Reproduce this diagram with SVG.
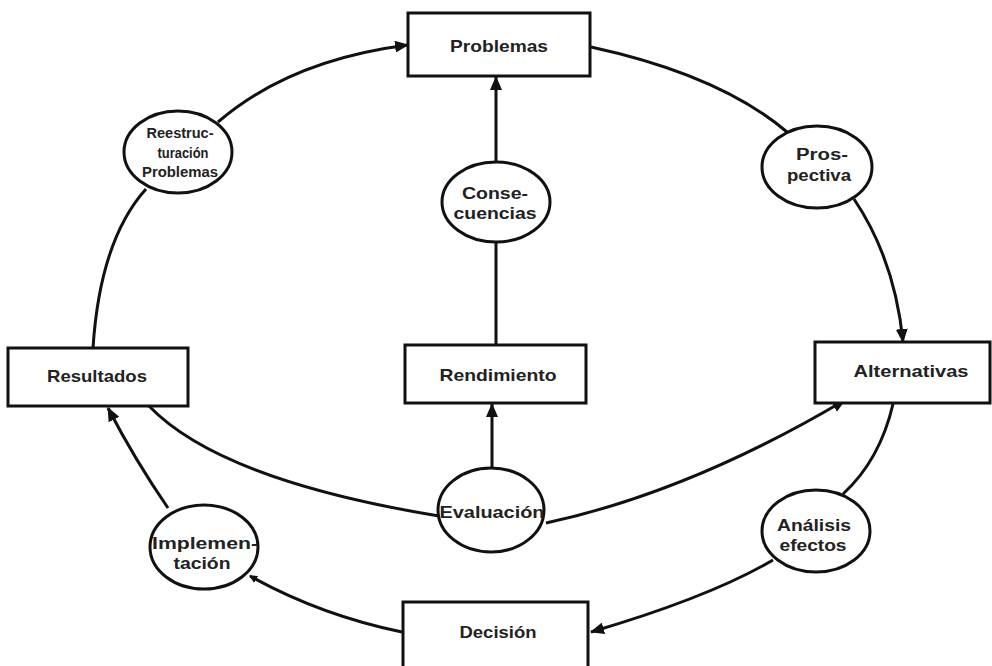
<svg xmlns="http://www.w3.org/2000/svg" width="992" height="666" viewBox="0 0 992 666">
<defs>
<marker id="arr" markerUnits="userSpaceOnUse" markerWidth="14" markerHeight="12" refX="13" refY="6" orient="auto">
<path d="M0,0 L14,6 L0,12 Z" fill="#111"/>
</marker>
<marker id="arrs" markerUnits="userSpaceOnUse" markerWidth="8" markerHeight="8" refX="7" refY="4" orient="auto">
<path d="M0,0 L8,4 L0,8 Z" fill="#111"/>
</marker>
<style>
.box{fill:#fff;stroke:#111;stroke-width:3}
.ell{fill:#fff;stroke:#111;stroke-width:3}
.con{fill:none;stroke:#111;stroke-width:3}
text{font-family:"Liberation Sans",Arial,sans-serif;font-weight:bold;fill:#222;text-anchor:middle;dominant-baseline:central}
.t{font-size:17px}
.s{font-size:16px}
.xs{font-size:14px}
</style>
</defs>
<rect width="992" height="666" fill="#fff"/>
<g id="connectors">
<path class="con" d="M218,122 Q290,60 408,45" marker-end="url(#arr)"/>
<path class="con" d="M93,348 Q100,240 146,189"/>
<path class="con" d="M591,47 Q720,75 787,132"/>
<path class="con" d="M854,199 Q895,260 903,342" marker-end="url(#arr)"/>
<path class="con" d="M496,162 L496,77" marker-end="url(#arr)"/>
<path class="con" d="M496,345 L496,242"/>
<path class="con" d="M492,468 L492,404" marker-end="url(#arr)"/>
<path class="con" d="M149,406 Q220,480 439,516"/>
<path class="con" d="M546,523 Q690,492 845,400" marker-end="url(#arr)"/>
<path class="con" d="M893,404 Q880,460 843,494"/>
<path class="con" d="M773,560 Q710,597 591,632" marker-end="url(#arr)"/>
<path class="con" d="M402,632 Q320,615 250,576" marker-end="url(#arrs)"/>
<path class="con" d="M168,508 Q135,460 108,408" marker-end="url(#arr)"/>
</g>
<g id="problemas"><rect class="box" x="408" y="13" width="182" height="63"/><text class="t" x="499" y="46" textLength="98" lengthAdjust="spacingAndGlyphs">Problemas</text></g>
<g id="rendimiento"><rect class="box" x="405" y="345" width="181" height="58"/><text class="t" x="498" y="375" textLength="117" lengthAdjust="spacingAndGlyphs">Rendimiento</text></g>
<g id="resultados"><rect class="box" x="8" y="348" width="180" height="58"/><text class="t" x="97" y="376" textLength="100" lengthAdjust="spacingAndGlyphs">Resultados</text></g>
<g id="alternativas"><rect class="box" x="815" y="342" width="175" height="61"/><text class="t" x="911" y="371" textLength="115" lengthAdjust="spacingAndGlyphs">Alternativas</text></g>
<g id="decision"><rect class="box" x="403" y="602" width="185" height="70"/><text class="t" x="498" y="632" textLength="77" lengthAdjust="spacingAndGlyphs">Decisión</text></g>
<g id="reestructuracion"><ellipse class="ell" cx="178" cy="152" rx="54" ry="41"/>
<text class="xs" x="180" y="133" textLength="67" lengthAdjust="spacingAndGlyphs">Reestruc-</text>
<text class="xs" x="183" y="153" textLength="51" lengthAdjust="spacingAndGlyphs">turación</text>
<text class="xs" x="180" y="172" textLength="76" lengthAdjust="spacingAndGlyphs">Problemas</text></g>
<g id="prospectiva"><ellipse class="ell" cx="817" cy="167" rx="55" ry="41"/>
<text class="s" x="822" y="154" textLength="52" lengthAdjust="spacingAndGlyphs">Pros-</text>
<text class="s" x="819" y="175" textLength="64" lengthAdjust="spacingAndGlyphs">pectiva</text></g>
<g id="consecuencias"><ellipse class="ell" cx="496" cy="202" rx="54" ry="40"/>
<text class="s" x="495" y="193" textLength="66" lengthAdjust="spacingAndGlyphs">Conse-</text>
<text class="s" x="495" y="213" textLength="83" lengthAdjust="spacingAndGlyphs">cuencias</text></g>
<g id="evaluacion"><ellipse class="ell" cx="491" cy="510" rx="53" ry="42"/>
<text class="s" x="492" y="512" textLength="105" lengthAdjust="spacingAndGlyphs">Evaluación</text></g>
<g id="implementacion"><ellipse class="ell" cx="204" cy="547" rx="54" ry="42"/>
<text class="s" x="205" y="543" textLength="106" lengthAdjust="spacingAndGlyphs">Implemen-</text>
<text class="s" x="202" y="563" textLength="57" lengthAdjust="spacingAndGlyphs">tación</text></g>
<g id="analisis"><ellipse class="ell" cx="816" cy="531" rx="54" ry="41"/>
<text class="s" x="814" y="525" textLength="74" lengthAdjust="spacingAndGlyphs">Análisis</text>
<text class="s" x="813" y="545" textLength="67" lengthAdjust="spacingAndGlyphs">efectos</text></g>
</svg>
